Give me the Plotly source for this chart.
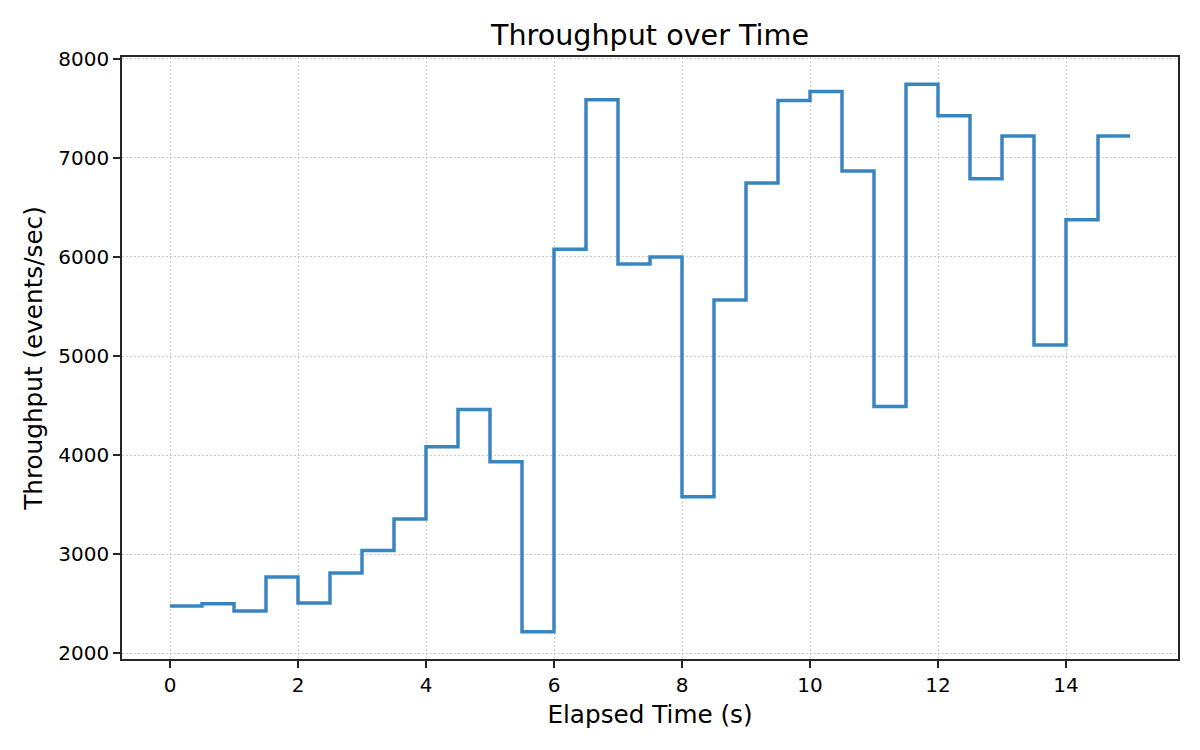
import plotly.graph_objects as go

# elapsed time (s) at the start of each interval, plus the end point
elapsed_s = [0.0, 0.5, 1.0, 1.5, 2.0, 2.5, 3.0, 3.5, 4.0, 4.5,
             5.0, 5.5, 6.0, 6.5, 7.0, 7.5, 8.0, 8.5, 9.0, 9.5,
             10.0, 10.5, 11.0, 11.5, 12.0, 12.5, 13.0, 13.5, 14.0, 14.5, 15.0]

# throughput (events/sec)
throughput = [2476, 2500, 2426, 2770, 2507, 2810, 3037, 3354, 4084, 4459,
              3933, 2217, 6078, 7587, 5929, 6000, 3578, 5566, 6746, 7580,
              7671, 6868, 4491, 7743, 7427, 6790, 7221, 5112, 6376, 7221, 7221]

x_ticks = [0, 2, 4, 6, 8, 10, 12, 14]
y_ticks = [2000, 3000, 4000, 5000, 6000, 7000, 8000]

font_family = "DejaVu Sans"
spine = "#262626"

fig = go.Figure()
fig.add_trace(go.Scatter(
    x=elapsed_s,
    y=throughput,
    mode="lines",
    line=dict(shape="hv", color="#3786bf", width=3.5),
    showlegend=False,
))

axis_common = dict(
    showline=True,
    linecolor=spine,
    linewidth=1.7,
    mirror=True,
    ticks="outside",
    ticklen=7,
    tickwidth=1.7,
    tickcolor=spine,
    showgrid=True,
    gridcolor="#cccccc",
    gridwidth=1.4,
    griddash="1.5px,2.5px",
    zeroline=False,
    tickfont=dict(family=font_family, size=20, color="black"),
)

fig.update_layout(
    width=1200,
    height=750,
    # page body adds 8px offset, so margins are shifted to compensate
    margin=dict(l=114, r=30, t=49, b=99),
    paper_bgcolor="white",
    plot_bgcolor="white",
    font=dict(family=font_family, color="black"),
    title=dict(
        text="Throughput over Time",
        x=(114 + 1170) / 2 / 1200,
        xanchor="center",
        y=1 - 27 / 750,
        yanchor="middle",
        yref="container",
        font=dict(family=font_family, size=28.6, color="black"),
    ),
    xaxis=dict(
        axis_common,
        range=[-0.75, 15.75],
        tickvals=x_ticks,
        title=dict(text="Elapsed Time (s)", standoff=10,
                   font=dict(family=font_family, size=24.7, color="black")),
    ),
    yaxis=dict(
        axis_common,
        range=[1941, 8019],
        tickvals=y_ticks,
        title=dict(text="Throughput (events/sec)", standoff=9,
                   font=dict(family=font_family, size=24.7, color="black")),
    ),
)

fig.write_html("out.html")
